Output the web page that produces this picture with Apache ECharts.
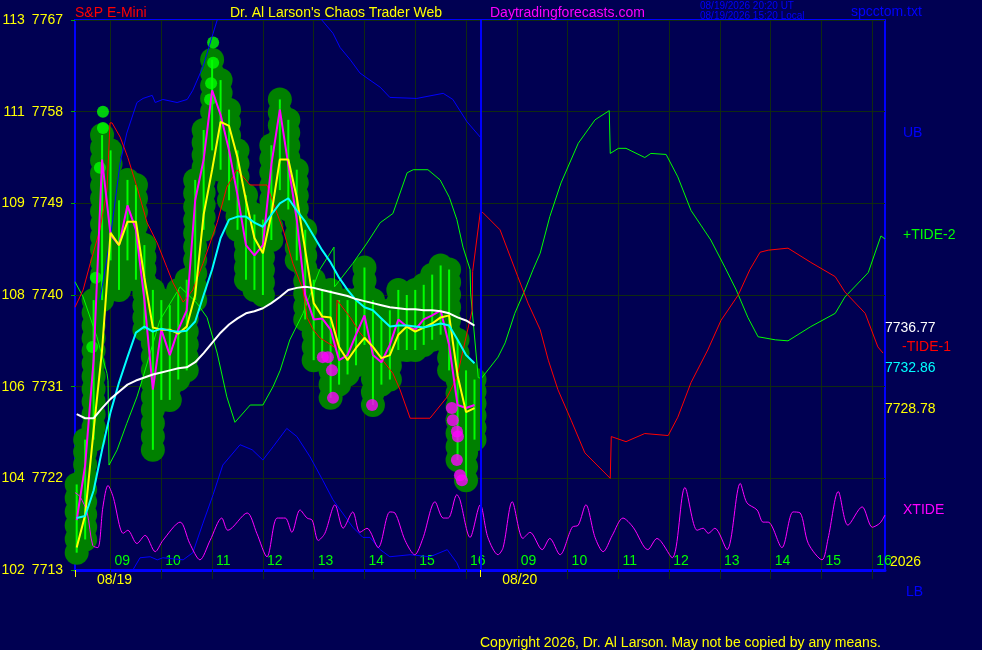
<!DOCTYPE html>
<html>
<head>
<meta charset="utf-8">
<title>S&amp;P E-Mini</title>
<script src="https://cdn.jsdelivr.net/npm/echarts@6/dist/echarts.min.js"></script>
<style>
  html, body { margin: 0; padding: 0; background: #000052; }
  #chart { width: 982px; height: 650px; }
</style>
</head>
<body>
<div id="chart"></div>
<script>
// x axis is "chart hours": day 1 = clock hour, day 2 = clock hour + 8
const xMin = 8.3, xMax = 24.25;
const dayBreak = 16.28;
const hourTicks = [9, 10, 11, 12, 13, 14, 15, 16, 17, 18, 19, 20, 21, 22, 23, 24];
const hourLabels = ['09', '10', '11', '12', '13', '14', '15', '16', '09', '10', '11', '12', '13', '14', '15', '16'];
const dateTicks = [8.3, 16.28];
const dateLabels = ['08/19', '08/20'];

const priceTicks = [7713, 7722, 7731, 7740, 7749, 7758, 7767];
const cycleLabels = ['102', '104', '106', '108', '109', '111', '113'];

// 10 minute bars, day 1
const barTimes = ['08:20', '08:30', '08:40', '08:50', '09:00', '09:10', '09:20', '09:30', '09:40', '09:50',
  '10:00', '10:10', '10:20', '10:30', '10:40', '10:50', '11:00', '11:10', '11:20', '11:30',
  '11:40', '11:50', '12:00', '12:10', '12:20', '12:30', '12:40', '12:50', '13:00', '13:10',
  '13:20', '13:30', '13:40', '13:50', '14:00', '14:10', '14:20', '14:30', '14:40', '14:50',
  '15:00', '15:10', '15:20', '15:30', '15:40', '15:50', '16:00', '16:10'];
const barHigh = [7721.4, 7725.8, 7739.5, 7755.7, 7754.2, 7749.3, 7751.3, 7750.8, 7744.9, 7740.5,
  7739.5, 7739.0, 7740.5, 7741.5, 7751.3, 7756.2, 7763.1, 7761.1, 7758.2, 7754.2,
  7749.8, 7747.9, 7747.4, 7754.7, 7759.2, 7757.2, 7752.3, 7746.4, 7741.5, 7740.5,
  7740.5, 7739.5, 7739.5, 7739.5, 7742.7, 7739.5, 7737.6, 7738.5, 7740.5, 7740.0,
  7740.5, 7741.0, 7742.0, 7742.9, 7742.5, 7735.6, 7732.6, 7731.7];
const barLow = [7714.7, 7716.0, 7725.8, 7739.5, 7743.4, 7740.5, 7743.4, 7741.5, 7736.6, 7724.8,
  7729.7, 7729.7, 7731.7, 7732.6, 7739.5, 7746.4, 7754.2, 7752.3, 7749.3, 7746.4,
  7741.5, 7740.5, 7740.0, 7745.4, 7750.3, 7748.4, 7743.4, 7737.6, 7733.6, 7733.8,
  7729.9, 7731.2, 7732.2, 7733.1, 7735.1, 7729.2, 7731.2, 7731.7, 7734.6, 7734.6,
  7734.6, 7735.1, 7735.6, 7736.1, 7732.6, 7723.8, 7721.8, 7725.8];
const barClose = [7717.9, 7723.3, 7733.6, 7753.3, 7745.9, 7744.9, 7748.8, 7746.4, 7739.5, 7730.7,
  7736.6, 7734.1, 7736.6, 7738.5, 7749.3, 7753.3, 7760.1, 7757.7, 7754.2, 7749.8,
  7744.9, 7743.9, 7744.9, 7752.8, 7758.2, 7752.8, 7747.4, 7740.0, 7737.6, 7737.7,
  7736.6, 7733.6, 7734.1, 7736.1, 7738.0, 7734.1, 7733.4, 7735.1, 7737.6, 7736.9,
  7736.6, 7737.6, 7738.0, 7738.5, 7735.1, 7729.2, 7728.9, 7729.2];

// averages at the bar times
const fastAvg = [7715.2, 7718.4, 7726.7, 7734.6, 7746.1, 7744.9, 7747.2, 7747.2, 7741.7, 7736.8,
  7736.6, 7736.6, 7736.2, 7736.9, 7740.0, 7747.9, 7752.3, 7757.0, 7756.6, 7753.5,
  7749.3, 7745.6, 7744.1, 7747.9, 7753.3, 7753.3, 7749.6, 7744.4, 7739.2, 7737.9,
  7737.8, 7734.9, 7733.6, 7734.8, 7735.8, 7734.9, 7733.8, 7734.1, 7736.1, 7736.9,
  7736.4, 7736.8, 7737.2, 7737.8, 7738.0, 7732.1, 7728.5, 7728.9];
const midAvg = [7718.1, 7718.3, 7720.8, 7724.8, 7728.5, 7731.4, 7733.9, 7736.3, 7736.9, 7736.4,
  7736.7, 7736.5, 7736.4, 7736.5, 7737.4, 7740.0, 7742.5, 7745.6, 7747.4, 7747.7,
  7747.7, 7747.1, 7746.7, 7747.9, 7749.0, 7749.5, 7748.3, 7747.2, 7745.8, 7744.4,
  7743.2, 7741.7, 7740.5, 7739.5, 7738.8, 7738.5, 7737.7, 7736.9, 7737.0, 7737.0,
  7736.9, 7736.8, 7737.0, 7737.2, 7737.0, 7735.6, 7734.1, 7733.3];
const slowAvg = [7728.3, 7727.9, 7727.9, 7728.9, 7729.8, 7730.5, 7731.2, 7731.6, 7731.9, 7732.2,
  7732.4, 7732.6, 7732.8, 7732.9, 7733.4, 7734.3, 7735.3, 7736.3, 7737.1, 7737.7,
  7738.2, 7738.4, 7738.7, 7739.2, 7739.8, 7740.5, 7740.7, 7740.8, 7740.7, 7740.5,
  7740.3, 7740.1, 7739.9, 7739.6, 7739.4, 7739.2, 7739.0, 7738.8, 7738.7, 7738.6,
  7738.6, 7738.5, 7738.5, 7738.4, 7738.2, 7737.8, 7737.5, 7737.0];
const avgLabels = ['7736.77', '7732.86', '7728.78'];

const highDots = [[8.85, 7758.0], [8.85, 7756.4], [8.79, 7752.5], [8.71, 7741.7], [8.64, 7734.9],
  [11.02, 7764.8], [11.02, 7762.8], [10.98, 7760.8], [10.96, 7759.2]];
const lowDots = [[13.18, 7733.9], [13.28, 7733.9], [13.36, 7732.6], [13.38, 7729.9], [14.15, 7729.2],
  [15.72, 7728.9], [15.74, 7727.7], [15.82, 7726.6], [15.84, 7726.1], [15.82, 7723.8],
  [15.88, 7722.3], [15.92, 7721.8]];

const upperBand = [[8.79, 7739.5], [8.99, 7745.4], [9.19, 7753.0], [9.32, 7755.9], [9.52, 7758.9],
  [9.64, 7759.3], [9.82, 7759.6], [9.88, 7758.9], [10.03, 7759.2], [10.31, 7758.9], [10.51, 7759.2],
  [10.62, 7760.1], [10.82, 7762.4], [11.02, 7765.7], [11.10, 7767.0], [11.55, 7769.9], [12.14, 7771.4],
  [12.73, 7770.4], [13.16, 7767.0], [13.38, 7765.7], [13.52, 7764.3], [13.72, 7763.1], [13.91, 7761.8],
  [14.05, 7761.3], [14.31, 7760.4], [14.50, 7759.4], [15.03, 7759.3], [15.55, 7759.8], [15.74, 7759.2],
  [16.02, 7757.0], [16.28, 7755.5]];
const lowerBand = [[9.44, 7713.0], [9.58, 7714.2], [9.78, 7714.3], [9.92, 7714.0], [10.03, 7714.2],
  [10.43, 7714.0], [10.62, 7714.7], [10.82, 7717.6], [11.02, 7720.4], [11.21, 7723.3], [11.55, 7725.3],
  [11.79, 7724.8], [12.00, 7723.8], [12.20, 7725.1], [12.47, 7726.9], [12.67, 7726.1], [12.93, 7724.1],
  [13.18, 7721.8], [13.38, 7719.9], [13.77, 7717.2], [13.97, 7716.2], [14.11, 7716.2], [14.31, 7715.0],
  [14.50, 7714.3], [14.90, 7714.5], [15.29, 7714.3], [15.63, 7715.0], [15.82, 7713.7], [15.88, 7713.0]];

const tidePlus = [[8.30, 7741.3], [8.46, 7739.8], [8.73, 7735.9], [8.93, 7732.3], [8.95, 7731.6],
  [8.97, 7723.3], [9.13, 7724.8], [9.32, 7727.4], [9.52, 7730.0], [9.62, 7731.6], [9.97, 7737.5],
  [10.37, 7740.8], [10.70, 7739.2], [10.90, 7737.8], [11.10, 7734.3], [11.29, 7730.0], [11.45, 7727.5],
  [11.75, 7729.2], [12.00, 7729.2], [12.20, 7731.0], [12.34, 7732.6], [12.53, 7735.6], [12.79, 7738.2],
  [13.12, 7742.5], [13.40, 7744.7], [13.41, 7740.8], [13.52, 7741.5], [13.77, 7743.1], [14.05, 7745.1],
  [14.31, 7747.1], [14.56, 7748.0], [14.84, 7752.0], [14.96, 7752.3], [15.25, 7752.3], [15.49, 7751.3],
  [15.67, 7749.6], [15.82, 7747.4], [15.94, 7744.7], [16.08, 7742.5], [16.09, 7740.2], [16.24, 7731.9],
  [16.30, 7731.8], [16.63, 7733.9], [16.77, 7735.3], [16.96, 7738.2], [17.16, 7740.5], [17.32, 7742.5],
  [17.46, 7744.1], [17.65, 7747.7], [17.87, 7751.0], [18.21, 7754.9], [18.54, 7757.2], [18.82, 7758.1],
  [18.84, 7753.9], [19.00, 7754.4], [19.15, 7754.4], [19.52, 7753.5], [19.64, 7753.9], [19.94, 7753.8],
  [20.17, 7751.6], [20.43, 7748.3], [20.82, 7745.4], [21.10, 7742.7], [21.32, 7740.5], [21.55, 7737.8],
  [21.75, 7735.9], [22.09, 7735.6], [22.34, 7735.5], [22.79, 7736.9], [23.27, 7738.2], [23.46, 7739.8],
  [23.92, 7742.2], [24.17, 7745.8], [24.25, 7745.5]];
const tideMinus = [[8.30, 7738.8], [8.46, 7740.5], [8.60, 7743.1], [8.79, 7746.4], [8.93, 7750.3],
  [8.99, 7756.9], [9.03, 7756.9], [9.19, 7755.5], [9.34, 7753.5], [9.52, 7750.6], [9.72, 7747.1],
  [9.92, 7745.1], [10.11, 7742.7], [10.23, 7741.2], [10.43, 7739.3], [10.62, 7740.5], [10.82, 7743.1],
  [11.10, 7747.1], [11.29, 7750.6], [11.49, 7752.3], [11.75, 7750.8], [12.08, 7750.8], [12.28, 7748.0],
  [12.40, 7746.4], [12.59, 7743.1], [12.79, 7740.5], [12.87, 7737.8], [12.99, 7736.6], [13.12, 7735.8],
  [13.44, 7734.8], [13.46, 7739.5], [13.72, 7737.8], [13.91, 7736.3], [14.25, 7734.3], [14.56, 7732.3],
  [14.70, 7730.7], [14.90, 7727.9], [15.29, 7727.9], [15.63, 7730.0], [15.82, 7731.9], [16.12, 7738.5],
  [16.13, 7742.3], [16.28, 7748.1], [16.33, 7748.1], [16.67, 7746.4], [17.02, 7741.8], [17.22, 7739.2],
  [17.46, 7736.6], [17.62, 7733.6], [17.81, 7730.7], [18.07, 7727.7], [18.34, 7724.5], [18.84, 7722.0],
  [18.86, 7726.1], [19.15, 7725.6], [19.52, 7726.4], [19.98, 7726.2], [20.17, 7728.0], [20.43, 7731.4],
  [20.76, 7734.6], [21.02, 7737.5], [21.36, 7740.0], [21.59, 7742.5], [21.79, 7744.2], [21.95, 7744.4],
  [22.34, 7744.6], [22.79, 7743.2], [23.27, 7741.8], [23.46, 7740.3], [23.86, 7738.2], [24.11, 7734.9],
  [24.21, 7734.3]];
const crossTide = [[8.30, 7720.6], [8.40, 7720.2], [8.54, 7718.6], [8.65, 7715.4], [8.75, 7715.2],
  [8.85, 7719.2], [8.95, 7721.3], [9.05, 7720.2], [9.25, 7716.6], [9.34, 7716.9], [9.52, 7715.6],
  [9.68, 7716.4], [9.88, 7714.8], [10.03, 7715.9], [10.37, 7717.7], [10.56, 7715.6], [10.76, 7714.0],
  [10.96, 7715.9], [11.19, 7718.1], [11.31, 7716.9], [11.69, 7718.6], [11.88, 7716.6], [12.08, 7714.3],
  [12.28, 7718.1], [12.44, 7718.1], [12.57, 7716.7], [12.73, 7718.9], [12.87, 7718.1], [12.97, 7717.9],
  [13.09, 7715.9], [13.22, 7716.6], [13.42, 7719.4], [13.58, 7717.1], [13.77, 7718.7], [13.91, 7716.7],
  [14.05, 7717.1], [14.27, 7715.2], [14.50, 7718.7], [14.60, 7718.6], [14.80, 7715.9], [14.99, 7714.5],
  [15.15, 7716.1], [15.39, 7719.7], [15.55, 7718.1], [15.65, 7718.1], [15.82, 7720.4], [15.88, 7719.9],
  [16.08, 7716.2], [16.28, 7719.4], [16.43, 7716.2], [16.63, 7714.5], [16.73, 7715.2], [16.91, 7719.7],
  [17.12, 7716.1], [17.26, 7716.7], [17.50, 7715.0], [17.65, 7716.1], [17.85, 7714.5], [18.09, 7717.2],
  [18.21, 7717.4], [18.36, 7719.4], [18.54, 7716.2], [18.70, 7714.8], [18.88, 7716.4], [19.09, 7718.1],
  [19.29, 7717.2], [19.58, 7715.0], [19.76, 7716.1], [20.06, 7714.2], [20.31, 7721.1], [20.55, 7716.9],
  [20.67, 7717.1], [20.77, 7716.6], [20.90, 7717.1], [21.14, 7715.0], [21.40, 7721.5], [21.53, 7719.6],
  [21.73, 7718.9], [21.85, 7717.7], [21.95, 7717.7], [22.22, 7715.2], [22.44, 7718.7], [22.58, 7718.6],
  [22.74, 7715.6], [23.01, 7714.0], [23.13, 7716.1], [23.33, 7720.7], [23.52, 7717.4], [23.80, 7719.2],
  [24.00, 7717.2], [24.15, 7717.6], [24.25, 7718.4]];

const FONT = '"Liberation Sans", Arial, sans-serif';
const GRID_LINE = '#102a10';

function toHours(s) {
  const p = s.split(':');
  return Number(p[0]) + Number(p[1]) / 60;
}
const barX = barTimes.map(toHours);
const barData = barX.map((t, i) => [t, barHigh[i], barLow[i]]);
const closeData = barX.map((t, i) => [t, barClose[i]]);
const fastData = barX.map((t, i) => [t, fastAvg[i]]);
const midData = barX.map((t, i) => [t, midAvg[i]]);
const slowData = barX.map((t, i) => [t, slowAvg[i]]);

// chain of bubbles from the bar high down to the bar low
function blobItem(params, api) {
  const hi = api.coord([api.value(0), api.value(1)]);
  const lo = api.coord([api.value(0), api.value(2)]);
  const r = 12;
  const span = lo[1] - hi[1];
  const n = Math.max(1, Math.round(span / 13));
  const children = [];
  for (let k = 0; k <= n; k++) {
    children.push({
      type: 'circle',
      shape: { cx: hi[0], cy: hi[1] + span * k / n, r: r },
      style: { fill: '#008000' }
    });
  }
  return { type: 'group', children: children };
}

function rangeItem(params, api) {
  const hi = api.coord([api.value(0), api.value(1)]);
  const lo = api.coord([api.value(0), api.value(2)]);
  return {
    type: 'rect',
    shape: { x: hi[0] - 1, y: hi[1], width: 2, height: lo[1] - hi[1] },
    style: { fill: '#00ff00' }
  };
}

function thinLine(name, data, color, extra) {
  return Object.assign({
    name: name, type: 'line', data: data, symbol: 'none', silent: true,
    lineStyle: { color: color, width: 1 }
  }, extra || {});
}

function txt(text, x, y, color, size) {
  return {
    type: 'text', x: x, y: y, silent: true,
    style: { text: text, fill: color, font: (size || 14) + 'px ' + FONT, align: 'left', verticalAlign: 'middle' }
  };
}

const chart = echarts.init(document.getElementById('chart'));

const option = {
  backgroundColor: '#000052',
  animation: false,
  grid: {
    left: 75, right: 97, top: 20, bottom: 80,
    outerBoundsMode: 'none',
    show: true, borderColor: '#0000ff', borderWidth: 2
  },
  xAxis: [{
    type: 'value', min: xMin, max: xMax,
    axisLine: { show: true, lineStyle: { color: '#0000ff', width: 3 } },
    axisTick: { show: true, customValues: hourTicks, length: 9, lineStyle: { color: GRID_LINE } },
    splitLine: { show: true, lineStyle: { color: GRID_LINE, width: 1 } },
    axisLabel: {
      customValues: hourTicks, inside: true, margin: 2, align: 'left', padding: [0, 0, 0, 4],
      color: '#00ff00', fontSize: 14, fontFamily: FONT,
      formatter: v => hourLabels[hourTicks.indexOf(v)]
    }
  }, {
    type: 'value', min: xMin, max: xMax, position: 'bottom', offset: 0,
    axisLine: { show: false },
    axisTick: { show: true, customValues: dateTicks, length: 7, lineStyle: { color: '#ffff00' } },
    splitLine: { show: false },
    axisLabel: {
      customValues: dateTicks, margin: 3, align: 'left', padding: [0, 0, 0, 22],
      color: '#ffff00', fontSize: 14, fontFamily: FONT,
      formatter: v => dateLabels[dateTicks.indexOf(v)]
    }
  }],
  yAxis: {
    type: 'value', min: 7713, max: 7767, interval: 9,
    axisLine: { show: false },
    axisTick: { show: true, length: 4, lineStyle: { color: '#00aa00' } },
    splitLine: { show: true, lineStyle: { color: GRID_LINE, width: 1 } },
    axisLabel: {
      margin: 12, color: '#ffff00', fontSize: 14, fontFamily: FONT,
      formatter: v => '{c|' + cycleLabels[priceTicks.indexOf(v)] + '}{g|}{p|' + v + '}',
      rich: {
        c: { color: '#ffff00', fontSize: 14, fontFamily: FONT },
        g: { width: 7 },
        p: { color: '#ffff00', fontSize: 14, fontFamily: FONT }
      }
    }
  },
  series: [
    { name: 'blobs', type: 'custom', renderItem: blobItem, data: barData, clip: false, silent: true,
      encode: { x: 0, y: [1, 2] } },
    { name: 'range', type: 'custom', renderItem: rangeItem, data: barData, clip: true, silent: true,
      encode: { x: 0, y: [1, 2] } },
    thinLine('UB', upperBand, '#0000ff'),
    thinLine('LB', lowerBand, '#0000ff'),
    thinLine('+TIDE-2', tidePlus, '#00ff00'),
    thinLine('-TIDE-1', tideMinus, '#ff0000'),
    thinLine('XTIDE', crossTide, '#ff00ff', {
      smooth: 0.3,
      markLine: {
        silent: true, symbol: ['none', 'none'], label: { show: false },
        lineStyle: { color: '#0000ff', width: 2, type: 'solid' },
        data: [{ xAxis: dayBreak }]
      }
    }),
    { name: 'close', type: 'line', data: closeData, symbol: 'none', silent: true,
      lineStyle: { color: '#ff00ff', width: 2 } },
    { name: 'fast', type: 'line', data: fastData, symbol: 'none', silent: true,
      lineStyle: { color: '#ffff00', width: 2 } },
    { name: 'mid', type: 'line', data: midData, symbol: 'none', silent: true,
      lineStyle: { color: '#00ffff', width: 2 } },
    { name: 'slow', type: 'line', data: slowData, symbol: 'none', silent: true,
      lineStyle: { color: '#ffffff', width: 2 } },
    { name: 'highs', type: 'scatter', data: highDots, symbol: 'circle', symbolSize: 12, silent: true,
      itemStyle: { color: '#00ff00' } },
    { name: 'lows', type: 'scatter', data: lowDots, symbol: 'circle', symbolSize: 12, silent: true,
      itemStyle: { color: '#ff00ff' } }
  ]
};

chart.setOption(option);

const avgColors = ['#ffffff', '#00ffff', '#ffff00'];
const texts = [
  txt('S&P E-Mini', 75, 13, '#ff0000'),
  txt("Dr. Al Larson's Chaos Trader Web", 230, 13, '#ffff00'),
  txt('Daytradingforecasts.com', 490, 13, '#ff00ff'),
  txt('08/19/2026 20:20 UT', 700, 6, '#0000ff', 10),
  txt('08/19/2026 15:20 Local', 700, 16, '#0000ff', 10),
  txt('spcctom.txt', 851, 12, '#0000ff'),
  txt('UB', 903, 133, '#0000ff'),
  txt('+TIDE-2', 903, 235, '#00ff00'),
  txt('-TIDE-1', 902, 347, '#ff0000'),
  txt('XTIDE', 903, 510, '#ff00ff'),
  txt('2026', 890, 562, '#ffff00'),
  txt('LB', 906, 592, '#0000ff'),
  txt('Copyright 2026, Dr. Al Larson. May not be copied by any means.', 480, 643, '#ffff00')
];
avgLabels.forEach((s, i) => {
  const y = chart.convertToPixel({ yAxisIndex: 0 }, Number(s));
  texts.push(txt(s, 885, y, avgColors[i]));
});
chart.setOption({ graphic: texts });
</script>
</body>
</html>
